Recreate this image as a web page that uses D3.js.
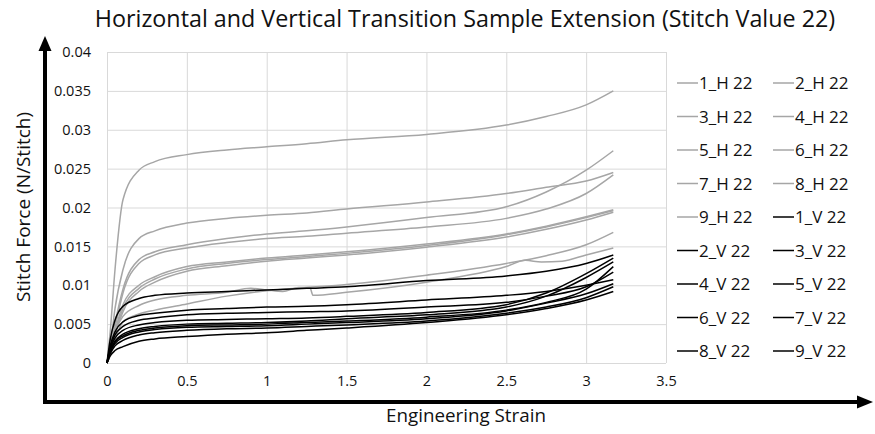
<!DOCTYPE html>
<html>
<head>
<meta charset="utf-8">
<script src="https://cdn.jsdelivr.net/npm/d3@7/dist/d3.min.js"></script>
<style>
  body { margin: 0; background: #fff; }
  svg { display: block; font-family: "Open Sans", sans-serif; }
</style>
</head>
<body>
<svg id="chart"></svg>
<script>
// strain points shared by most of the series
const strainPts = [0, 0.02, 0.05, 0.1, 0.2, 0.3, 0.5, 0.75, 1, 1.25, 1.5, 2, 2.5, 2.75, 3, 3.17];

// horizontal samples (gray)
const h1 = [0, 0.0040, 0.0120, 0.0210, 0.0248, 0.0259, 0.0268, 0.0274, 0.0278, 0.0282, 0.0287, 0.0294, 0.0306, 0.0317, 0.0332, 0.0350];
const h2 = [0, 0.0020, 0.0070, 0.0120, 0.0160, 0.0170, 0.0180, 0.0186, 0.0190, 0.0193, 0.0198, 0.0207, 0.0218, 0.0226, 0.0234, 0.0245];
const h3 = [0, 0.0015, 0.0050, 0.0095, 0.0133, 0.0143, 0.0152, 0.0160, 0.0166, 0.0170, 0.0175, 0.0187, 0.0201, 0.0220, 0.0248, 0.0273];
const h4 = [0, 0.0013, 0.0045, 0.0090, 0.0128, 0.0139, 0.0148, 0.0155, 0.0160, 0.0163, 0.0167, 0.0175, 0.0186, 0.0198, 0.0218, 0.0242];
const h5 = [0, 0.0012, 0.0040, 0.0075, 0.0100, 0.0111, 0.0124, 0.0130, 0.0135, 0.0139, 0.0143, 0.0153, 0.0166, 0.0176, 0.0188, 0.0197];
const h6 = [0, 0.0011, 0.0038, 0.0070, 0.0096, 0.0108, 0.0121, 0.0128, 0.0133, 0.0137, 0.0141, 0.0151, 0.0165, 0.0175, 0.0187, 0.0196];
const h7 = [0, 0.0010, 0.0035, 0.0066, 0.0092, 0.0104, 0.0118, 0.0125, 0.0131, 0.0135, 0.0139, 0.0149, 0.0162, 0.0172, 0.0184, 0.0194];
const h8 = [0, 0.0010, 0.0030, 0.0053, 0.0063, 0.0068, 0.0076, 0.0086, 0.0093, 0.0097, 0.0101, 0.0113, 0.0128, 0.0138, 0.0152, 0.0168];
// 9_H has its own strain points (dip and drop near 1.1 - 1.3)
const strainH9 = [0, 0.02, 0.05, 0.1, 0.2, 0.3, 0.5, 0.75, 0.9, 1.0, 1.1, 1.2, 1.27, 1.29, 1.5, 2, 2.5, 2.62, 2.72, 2.85, 3, 3.17];
const h9 = [0, 0.0015, 0.0040, 0.0060, 0.0074, 0.0081, 0.0087, 0.0091, 0.0096, 0.0094, 0.0092, 0.0097, 0.0097, 0.0087, 0.0091, 0.0104, 0.0124, 0.0132, 0.0130, 0.0131, 0.0139, 0.0148];

// vertical samples (black)
const v1 = [0, 0.0030, 0.0055, 0.0073, 0.0083, 0.0087, 0.0090, 0.0092, 0.0094, 0.0096, 0.0098, 0.0106, 0.0112, 0.0118, 0.0128, 0.0139];
const v2 = [0, 0.0022, 0.0040, 0.0053, 0.0061, 0.0064, 0.0068, 0.0070, 0.0072, 0.0073, 0.0075, 0.0081, 0.0087, 0.0092, 0.0100, 0.0107];
const v3 = [0, 0.0020, 0.0036, 0.0047, 0.0055, 0.0058, 0.0062, 0.0064, 0.0065, 0.0066, 0.0067, 0.0072, 0.0078, 0.0086, 0.0098, 0.0117];
const v4 = [0, 0.0018, 0.0032, 0.0042, 0.0049, 0.0052, 0.0055, 0.0056, 0.0057, 0.0058, 0.0060, 0.0065, 0.0075, 0.0090, 0.0115, 0.0135];
const v5 = [0, 0.0016, 0.0028, 0.0037, 0.0044, 0.0047, 0.0050, 0.0051, 0.0052, 0.0054, 0.0057, 0.0062, 0.0072, 0.0086, 0.0110, 0.0130];
const v6 = [0, 0.0015, 0.0027, 0.0035, 0.0042, 0.0045, 0.0048, 0.0049, 0.0050, 0.0052, 0.0054, 0.0059, 0.0068, 0.0078, 0.0095, 0.0124];
const v7 = [0, 0.0014, 0.0025, 0.0033, 0.0040, 0.0043, 0.0046, 0.0047, 0.0048, 0.0050, 0.0052, 0.0057, 0.0067, 0.0077, 0.0089, 0.0102];
const v8 = [0, 0.0012, 0.0022, 0.0029, 0.0036, 0.0039, 0.0042, 0.0044, 0.0045, 0.0047, 0.0049, 0.0054, 0.0064, 0.0072, 0.0084, 0.0098];
const v9 = [0, 0.0009, 0.0016, 0.0021, 0.0028, 0.0031, 0.0034, 0.0037, 0.0039, 0.0042, 0.0045, 0.0052, 0.0062, 0.0070, 0.0081, 0.0092];

const seriesNames = ["1_H 22", "2_H 22", "3_H 22", "4_H 22", "5_H 22", "6_H 22", "7_H 22", "8_H 22", "9_H 22",
                     "1_V 22", "2_V 22", "3_V 22", "4_V 22", "5_V 22", "6_V 22", "7_V 22", "8_V 22", "9_V 22"];
const seriesValues = [h1, h2, h3, h4, h5, h6, h7, h8, h9, v1, v2, v3, v4, v5, v6, v7, v8, v9];

const xTicks = [0, 0.5, 1, 1.5, 2, 2.5, 3, 3.5];
const xTickLabels = ["0", "0.5", "1", "1.5", "2", "2.5", "3", "3.5"];
const yTicks = [0, 0.005, 0.01, 0.015, 0.02, 0.025, 0.03, 0.035, 0.04];
const yTickLabels = ["0", "0.005", "0.01", "0.015", "0.02", "0.025", "0.03", "0.035", "0.04"];

const W = 875, H = 434;
const GRAY = "#a6a6a6";

// build the series table
const series = seriesNames.map((name, i) => {
  const xs = name === "9_H 22" ? strainH9 : strainPts;
  return {
    name: name,
    color: name.indexOf("_H") > 0 ? GRAY : "#000",
    points: xs.map((s, j) => ({ x: s, y: seriesValues[i][j] }))
  };
});

const svg = d3.select("#chart").attr("width", W).attr("height", H);

const x = d3.scaleLinear().domain([0, 3.5]).range([107, 666]);
const y = d3.scaleLinear().domain([0, 0.04]).range([363, 52]);

// gridlines
svg.append("g")
  .attr("transform", `translate(0,${y(0)})`)
  .call(d3.axisBottom(x).tickValues(xTicks).tickSize(-(y(0) - y(0.04))).tickFormat(""))
  .call(g => g.select(".domain").remove())
  .call(g => g.selectAll("line").attr("stroke", "#d9d9d9"));
svg.append("g")
  .attr("transform", `translate(${x(0)},0)`)
  .call(d3.axisLeft(y).tickValues(yTicks).tickSize(-(x(3.5) - x(0))).tickFormat(""))
  .call(g => g.select(".domain").remove())
  .call(g => g.selectAll("line").attr("stroke", "#d9d9d9"));

// tick labels
svg.append("g")
  .attr("transform", `translate(0,${y(0)})`)
  .call(d3.axisBottom(x).tickValues(xTicks).tickSize(0).tickPadding(13)
    .tickFormat((d, i) => xTickLabels[i]))
  .call(g => g.select(".domain").remove())
  .call(g => g.selectAll("text").attr("font-size", 14.5).attr("fill", "#111")
    .attr("font-family", '"Open Sans", sans-serif'));
svg.append("g")
  .attr("transform", `translate(${x(0)},0)`)
  .call(d3.axisLeft(y).tickValues(yTicks).tickSize(0).tickPadding(16)
    .tickFormat((d, i) => yTickLabels[i]))
  .call(g => g.select(".domain").remove())
  .call(g => g.selectAll("text").attr("font-size", 14.5).attr("fill", "#111")
    .attr("font-family", '"Open Sans", sans-serif'));

// curves
const line = d3.line()
  .x(d => x(d.x))
  .y(d => y(d.y))
  .curve(d3.curveMonotoneX);

svg.append("g")
  .selectAll("path")
  .data(series)
  .join("path")
  .attr("fill", "none")
  .attr("stroke", d => d.color)
  .attr("stroke-width", 1.5)
  .attr("d", d => line(d.points));

// legend, two columns
const legend = svg.append("g");
const rowY = i => 83 + Math.floor(i / 2) * 33.5;
const colX = i => (i % 2 === 0 ? 677 : 773);
const items = legend.selectAll("g").data(series).join("g")
  .attr("transform", (d, i) => `translate(${colX(i)},${rowY(i)})`);
items.append("line")
  .attr("x1", 0).attr("x2", 21).attr("y1", 0).attr("y2", 0)
  .attr("stroke", d => d.color).attr("stroke-width", 1.5);
items.append("text")
  .attr("x", 22).attr("dy", "0.36em")
  .attr("font-size", 17).attr("fill", "#111")
  .text(d => d.name);

// thick arrow axes
svg.append("path")
  .attr("d", "M45,402 V50")
  .attr("stroke", "#000").attr("stroke-width", 4).attr("fill", "none");
svg.append("path")
  .attr("d", "M38.5,51 L45,36 L51.5,51 Z").attr("fill", "#000");
svg.append("path")
  .attr("d", "M43,402 H858")
  .attr("stroke", "#000").attr("stroke-width", 4).attr("fill", "none");
svg.append("path")
  .attr("d", "M857,395.5 L873,402 L857,408.5 Z").attr("fill", "#000");

// titles
svg.append("text")
  .attr("x", 465).attr("y", 27)
  .attr("text-anchor", "middle")
  .attr("font-size", 23.3).attr("fill", "#111")
  .text("Horizontal and Vertical Transition Sample Extension (Stitch Value 22)");
svg.append("text")
  .attr("transform", "translate(30,207) rotate(-90)")
  .attr("text-anchor", "middle")
  .attr("font-size", 19).attr("fill", "#111")
  .text("Stitch Force (N/Stitch)");
svg.append("text")
  .attr("x", 466).attr("y", 422)
  .attr("text-anchor", "middle")
  .attr("font-size", 18.8).attr("fill", "#111")
  .text("Engineering Strain");
</script>
</body>
</html>
